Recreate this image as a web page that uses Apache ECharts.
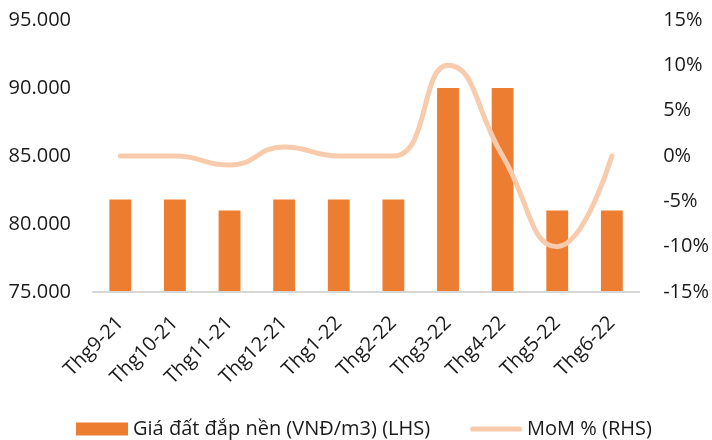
<!DOCTYPE html>
<html>
<head>
<meta charset="utf-8">
<script src="https://cdn.jsdelivr.net/npm/echarts@6/dist/echarts.min.js"></script>
<style>
  html, body { margin: 0; padding: 0; background: #fff; }
  #main { width: 712px; height: 440px; }
</style>
</head>
<body>
<div id="main"></div>
<script>
// thang
const categories = ["Thg9-21", "Thg10-21", "Thg11-21", "Thg12-21", "Thg1-22", "Thg2-22", "Thg3-22", "Thg4-22", "Thg5-22", "Thg6-22"];
// gia dat dap nen (VND/m3)
const priceValues = [81800, 81800, 81000, 81800, 81800, 81800, 90000, 90000, 81000, 81000];
// MoM %
const momValues = [0, 0, -1, 1, 0, 0, 10, 0, -10, 0];

const fontFamily = "'Open Sans', 'Noto Sans', sans-serif";

let myChart = echarts.init(document.getElementById("main"));
let option = {
  animation: false,
  textStyle: { fontFamily: fontFamily },
  grid: {
    left: 93,
    right: 71,
    top: 20,
    bottom: 148
  },
  legend: {
    top: 414,
    left: 71,
    itemWidth: 52,
    itemHeight: 13,
    itemGap: 40,
    textStyle: { fontSize: 20, color: "#1a1a1a", fontFamily: fontFamily },
    data: [
      { name: "Giá đất đắp nền (VNĐ/m3) (LHS)", icon: "rect" },
      {
        name: "MoM % (RHS)",
        icon: "path://M3,0 L57,0 A3,3 0 0 1 57,6 L3,6 A3,3 0 0 1 3,0 Z"
      }
    ]
  },
  xAxis: {
    type: "category",
    data: categories,
    z: 5,
    axisLine: { show: true, onZero: false, lineStyle: { color: "#D6D6D6", width: 2 } },
    axisTick: { show: false },
    axisLabel: {
      rotate: 45,
      margin: 28,
      fontSize: 20,
      color: "#1a1a1a",
      interval: 0
    }
  },
  yAxis: [
    {
      type: "value",
      min: 75000,
      max: 95000,
      interval: 5000,
      splitLine: { show: false },
      axisLine: { show: false },
      axisTick: { show: false },
      axisLabel: {
        fontSize: 20,
        color: "#1a1a1a",
        margin: 22,
        formatter: function (v) {
          return (v / 1000).toFixed(3);
        }
      }
    },
    {
      type: "value",
      min: -15,
      max: 15,
      interval: 5,
      splitLine: { show: false },
      axisLine: { show: false },
      axisTick: { show: false },
      axisLabel: {
        fontSize: 20,
        color: "#1a1a1a",
        margin: 24,
        formatter: "{value}%"
      }
    }
  ],
  series: [
    {
      name: "Giá đất đắp nền (VNĐ/m3) (LHS)",
      type: "bar",
      barWidth: "40%",
      itemStyle: { color: "#ED7D31" },
      data: priceValues
    },
    {
      name: "MoM % (RHS)",
      type: "line",
      yAxisIndex: 1,
      smooth: 0.5,
      symbol: "none",
      lineStyle: { color: "#F8CBAD", width: 5, cap: "round" },
      itemStyle: { color: "#F8CBAD" },
      data: momValues
    }
  ]
};
myChart.setOption(option);
</script>
</body>
</html>
